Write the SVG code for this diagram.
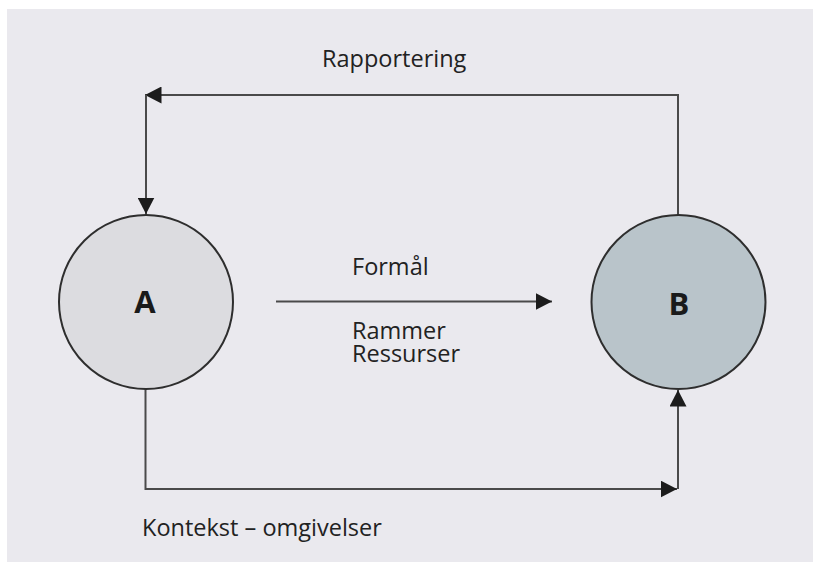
<svg xmlns="http://www.w3.org/2000/svg" width="813" height="562" viewBox="0 0 813 562">
  <defs>
    <marker id="arrow" markerUnits="userSpaceOnUse" markerWidth="17" markerHeight="17" refX="16.5" refY="8.5" orient="auto" viewBox="0 0 17 17">
      <path d="M0,0 L16.5,8.5 L0,17 z" fill="#1c1c1c"/>
    </marker>
    <style>
      .conn { fill: none; stroke: #4a4a4a; stroke-width: 2; }
      .node { stroke: #2e2e2e; stroke-width: 2; }
      .lbl { font-family: "Open Sans", "Liberation Sans", sans-serif; font-size: 23.5px; fill: #222; }
      .big { font-family: "Open Sans", "Liberation Sans", sans-serif; font-size: 31px; font-weight: bold; fill: #1a1a1a; text-anchor: middle; }
    </style>
  </defs>
  <rect x="0" y="0" width="813" height="562" fill="#ffffff"/>
  <rect x="7" y="9" width="806" height="553" fill="#eae9ee"/>

  <g id="connectors">
    <path class="conn" d="M678,215 V95 H145" marker-end="url(#arrow)"/>
    <path class="conn" d="M146,95 V214" marker-end="url(#arrow)"/>
    <path class="conn" d="M276,301.5 H552" marker-end="url(#arrow)"/>
    <path class="conn" d="M145.5,389 V489 H677" marker-end="url(#arrow)"/>
    <path class="conn" d="M678,489 V390" marker-end="url(#arrow)"/>
  </g>

  <g id="node-A">
    <circle class="node" cx="146" cy="302" r="87" fill="#dcdce0"/>
    <text class="big" x="145" y="312.5">A</text>
  </g>
  <g id="node-B">
    <circle class="node" cx="678.5" cy="302" r="87" fill="#b9c4ca"/>
    <text class="big" x="679" y="315">B</text>
  </g>

  <g id="labels">
    <text class="lbl" x="322" y="66.5">Rapportering</text>
    <text class="lbl" x="352" y="275">Formål</text>
    <text class="lbl" x="352" y="338.5">Rammer<tspan x="352" dy="23.5">Ressurser</tspan></text>
    <text class="lbl" x="142" y="536">Kontekst – omgivelser</text>
  </g>
</svg>
